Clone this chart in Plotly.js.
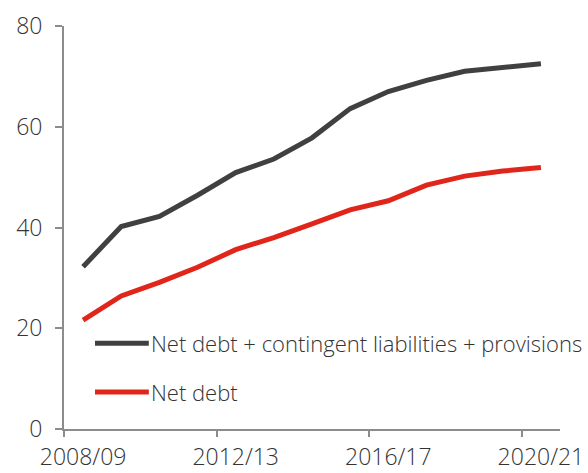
<!DOCTYPE html>
<html>
<head>
<meta charset="utf-8">
<script src="https://cdn.plot.ly/plotly-3.0.1.min.js"></script>
<style>html,body{margin:0;padding:0;background:#fff;}#chart{width:588px;height:473px;}</style>
</head>
<body>
<div id="chart"></div>
<script>
// Fiscal years (start year of each year, e.g. 2008 = 2008/09)
var fiscalYears = [2008, 2009, 2010, 2011, 2012, 2013, 2014, 2015, 2016, 2017, 2018, 2019, 2020];
var netDebtPlus = [32.2, 40.2, 42.2, 46.4, 50.9, 53.6, 57.8, 63.6, 67.0, 69.2, 71.0, 71.8, 72.5];
var netDebt = [21.6, 26.4, 29.1, 32.1, 35.6, 38.0, 40.7, 43.5, 45.3, 48.4, 50.2, 51.2, 51.9];
var tickYears = [2008, 2012, 2016, 2020];
var tickLabels = ['2008/09', '2012/13', '2016/17', '2020/21'];
var seriesNames = ['Net debt + contingent liabilities + provisions', 'Net debt'];
var seriesColors = ['#404040', '#e0261b'];

// each fiscal year is drawn at the middle of its category slot
var xMid = fiscalYears.map(function (y) { return y + 0.5; });
var labelPos = tickYears.map(function (y) { return y + 0.5; });
var FONT = '"Open Sans", "Noto Sans", sans-serif';

var traces = [
  {x: xMid, y: netDebtPlus, type: 'scatter', mode: 'lines', name: seriesNames[0],
   line: {color: seriesColors[0], width: 5, shape: 'linear'}, showlegend: false, hoverinfo: 'x+y'},
  {x: xMid, y: netDebt, type: 'scatter', mode: 'lines', name: seriesNames[1],
   line: {color: seriesColors[1], width: 5}, showlegend: false, hoverinfo: 'x+y'},
  // invisible helper so the label axis is drawn
  {x: [fiscalYears[0]], y: [null], xaxis: 'x2', type: 'scatter', mode: 'lines', showlegend: false, hoverinfo: 'skip'}
];

var legendY = [0.213, 0.092];
var shapes = [], annotations = [];
for (var i = 0; i < seriesNames.length; i++) {
  shapes.push({type: 'line', xref: 'paper', yref: 'paper', x0: 0.0625, x1: 0.171, y0: legendY[i], y1: legendY[i],
    line: {color: seriesColors[i], width: 5}});
  annotations.push({xref: 'paper', yref: 'paper', x: 0.173, y: legendY[i], xanchor: 'left', yanchor: 'middle',
    align: 'left', borderpad: 0,
    text: seriesNames[i], showarrow: false, font: {family: FONT, size: 22, weight: 300, color: '#333333'}});
}

var tickFont = {family: FONT, size: 23, weight: 300, color: '#333333'};
var xRange = [2008, 2021];

var layout = {
  width: 588, height: 473,
  margin: {l: 64, r: 28, t: 26, b: 44},
  paper_bgcolor: '#ffffff', plot_bgcolor: '#ffffff',
  font: {family: FONT, size: 22, weight: 300, color: '#333333'},
  showlegend: false,
  xaxis: {
    range: xRange, tickmode: 'array', tickvals: tickYears, showticklabels: false,
    showgrid: false, zeroline: false, showline: true, linecolor: '#8c8c8c', linewidth: 2,
    ticks: 'outside', ticklen: 6, tickwidth: 2, tickcolor: '#8c8c8c', fixedrange: true
  },
  xaxis2: {
    overlaying: 'x', side: 'bottom', anchor: 'y',
    range: xRange, tickmode: 'array', tickvals: labelPos, ticktext: tickLabels,
    tickfont: tickFont, ticks: '', showline: false,
    showgrid: false, zeroline: false, ticklabelstandoff: 12, fixedrange: true
  },
  yaxis: {
    range: [0, 80], tickmode: 'linear', tick0: 0, dtick: 20,
    tickfont: tickFont,
    showgrid: false, zeroline: false, showline: true, linecolor: '#8c8c8c', linewidth: 2,
    ticks: 'outside', ticklen: 7, tickwidth: 2, tickcolor: '#8c8c8c',
    ticklabelstandoff: 8, fixedrange: true
  },
  shapes: shapes,
  annotations: annotations
};

Plotly.newPlot('chart', traces, layout, {displayModeBar: false, staticPlot: true});
</script>
</body>
</html>
